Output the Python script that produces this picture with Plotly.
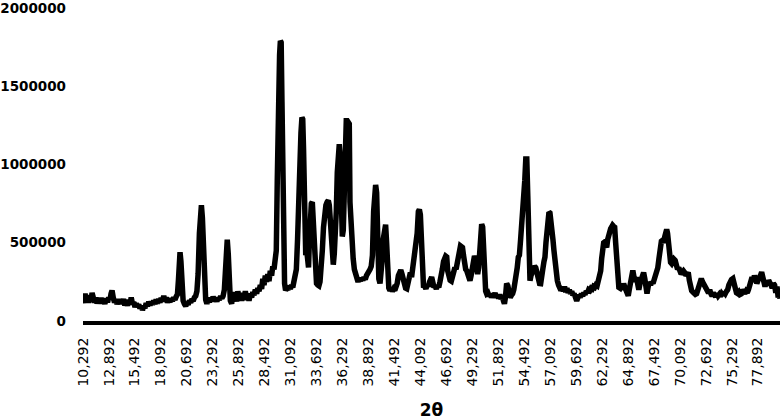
import plotly.graph_objects as go

two_theta = [
10.29,10.40,10.50,10.60,10.72,10.85,10.98,11.10,11.20,11.32,11.45,11.58,11.70,11.83,11.96,12.10,12.22,12.35,12.48,12.62,
12.75,12.88,13.00,13.10,13.20,13.32,13.45,13.58,13.70,13.84,13.96,14.10,14.22,14.35,14.48,14.62,14.75,14.88,15.00,15.12,
15.25,15.38,15.50,15.62,15.75,15.88,16.00,16.12,16.25,16.38,16.50,16.62,16.75,16.88,17.00,17.12,17.25,17.38,17.50,17.62,
17.75,17.88,18.00,18.12,18.25,18.38,18.50,18.62,18.75,18.88,19.00,19.12,19.25,19.38,19.50,19.62,19.75,19.85,19.93,20.01,
20.10,20.20,20.32,20.45,20.58,20.70,20.82,20.95,21.08,21.20,21.32,21.45,21.58,21.70,21.82,21.95,22.05,22.15,22.25,22.35,
22.45,22.58,22.70,22.82,22.95,23.08,23.20,23.32,23.45,23.58,23.70,23.82,23.95,24.08,24.20,24.32,24.45,24.55,24.65,24.74,
24.84,24.95,25.05,25.18,25.30,25.42,25.55,25.68,25.80,25.92,26.05,26.18,26.30,26.42,26.55,26.68,26.80,26.92,27.05,27.18,
27.30,27.42,27.55,27.68,27.80,27.92,28.05,28.18,28.30,28.42,28.55,28.68,28.80,28.92,29.05,29.18,29.30,29.42,29.55,29.65,
29.75,29.82,29.90,29.98,30.06,30.14,30.22,30.30,30.38,30.48,30.58,30.70,30.82,30.94,31.06,31.18,31.30,31.42,31.54,31.66,
31.78,31.88,31.96,32.04,32.12,32.22,32.30,32.38,32.46,32.53,32.60,32.70,32.80,32.88,32.96,33.06,33.16,33.26,33.36,33.46,
33.56,33.68,33.80,33.92,34.03,34.14,34.26,34.38,34.50,34.62,34.74,34.86,34.96,35.06,35.16,35.26,35.36,35.46,35.56,35.66,
35.76,35.86,35.96,36.06,36.16,36.26,36.36,36.46,36.56,36.66,36.76,36.86,36.96,37.03,37.13,37.23,37.35,37.47,37.60,37.72,
37.84,37.96,38.08,38.20,38.32,38.44,38.56,38.68,38.80,38.92,39.04,39.16,39.28,39.40,39.50,39.60,39.70,39.80,39.92,40.04,
40.14,40.24,40.36,40.48,40.60,40.70,40.80,40.92,41.04,41.16,41.28,41.40,41.52,41.64,41.76,41.88,42.00,42.12,42.24,42.36,
42.48,42.60,42.72,42.84,42.96,43.08,43.20,43.30,43.40,43.52,43.64,43.76,43.88,43.98,44.08,44.18,44.28,44.40,44.52,44.64,
44.76,44.88,45.00,45.10,45.21,45.32,45.44,45.56,45.68,45.80,45.92,46.04,46.16,46.28,46.40,46.52,46.62,46.72,46.82,46.94,
47.06,47.18,47.30,47.42,47.54,47.66,47.78,47.90,48.00,48.10,48.20,48.30,48.40,48.50,48.62,48.72,48.84,48.94,49.05,49.16,
49.28,49.40,49.50,49.60,49.72,49.82,49.92,50.02,50.12,50.22,50.32,50.42,50.52,50.62,50.72,50.84,50.96,51.08,51.20,51.32,
51.44,51.56,51.68,51.80,51.92,52.04,52.16,52.28,52.40,52.50,52.60,52.72,52.84,52.96,53.08,53.20,53.32,53.44,53.56,53.66,
53.78,53.89,54.00,54.12,54.23,54.34,54.44,54.54,54.64,54.74,54.84,54.94,55.06,55.16,55.28,55.40,55.52,55.64,55.76,55.90,
56.02,56.13,56.24,56.34,56.46,56.56,56.66,56.76,56.86,56.96,57.06,57.16,57.26,57.36,57.46,57.56,57.68,57.80,57.92,58.04,
58.16,58.28,58.40,58.52,58.64,58.76,58.88,59.00,59.12,59.24,59.36,59.48,59.62,59.74,59.86,59.98,60.10,60.22,60.34,60.46,
60.58,60.70,60.82,60.94,61.06,61.18,61.30,61.42,61.54,61.66,61.78,61.90,62.02,62.14,62.24,62.34,62.44,62.54,62.64,62.74,
62.84,62.94,63.04,63.14,63.24,63.34,63.44,63.54,63.64,63.74,63.86,63.96,64.08,64.20,64.32,64.44,64.56,64.68,64.80,64.90,
65.00,65.12,65.24,65.36,65.48,65.60,65.72,65.84,65.96,66.08,66.20,66.32,66.44,66.56,66.68,66.78,66.90,67.02,67.14,67.26,
67.38,67.50,67.62,67.74,67.86,67.98,68.10,68.22,68.34,68.46,68.56,68.66,68.75,68.84,68.94,69.04,69.14,69.25,69.36,69.48,
69.60,69.72,69.84,69.96,70.08,70.20,70.32,70.44,70.56,70.68,70.80,70.91,71.02,71.14,71.25,71.38,71.50,71.62,71.75,71.86,
71.98,72.10,72.22,72.34,72.46,72.58,72.70,72.82,72.94,73.06,73.18,73.30,73.42,73.54,73.66,73.78,73.90,74.02,74.14,74.26,
74.38,74.50,74.62,74.74,74.86,74.98,75.10,75.24,75.38,75.50,75.62,75.74,75.86,75.98,76.10,76.22,76.34,76.46,76.58,76.70,
76.82,76.94,77.06,77.18,77.30,77.42,77.54,77.66,77.78,77.90,78.02,78.14,78.26,78.38,78.50,78.60,78.72,78.84,78.96,79.08,
79.20,79.32,79.44,79.56,79.68,79.80,79.92,80.04,80.10,
]

# intensity in thousands of counts
intensity_k = [
160,115,175,125,165,118,150,130,180,140,118,150,112,140,120,148,112,135,110,145,
120,150,135,175,195,150,118,140,108,135,110,138,112,140,100,128,98,135,105,150,
110,120,88,112,92,105,80,98,70,95,82,115,95,122,100,125,105,130,108,138,
112,140,118,148,125,160,130,150,118,140,120,145,128,150,135,155,170,260,420,440,
380,210,130,108,95,118,105,130,118,140,128,150,160,190,300,560,680,740,660,420,
220,135,110,138,120,148,125,155,130,145,125,150,135,158,145,160,200,330,470,520,
430,240,130,110,185,140,175,125,190,150,180,130,170,135,190,145,170,130,175,150,
185,165,200,175,210,190,230,205,270,230,290,250,300,255,320,290,350,330,380,450,
900,1500,1520,1700,1790,1780,1400,800,420,240,195,210,200,225,205,230,215,245,280,330,
520,850,1030,1050,1200,1300,1290,1100,700,500,420,450,360,342,500,700,750,760,650,420,
290,240,230,225,250,320,450,600,700,740,760,770,740,620,500,400,360,430,520,700,
950,1100,1130,1050,700,540,580,900,1200,1280,1280,1275,1260,760,600,500,400,330,290,260,
250,270,255,275,260,280,265,290,300,320,330,350,420,700,860,870,820,450,270,240,
300,380,520,600,615,500,300,210,195,210,190,205,195,215,240,290,320,325,300,260,
220,210,206,240,290,310,280,330,350,380,440,560,700,712,680,450,250,213,225,205,
235,220,250,265,280,250,215,225,205,230,215,250,280,330,380,400,415,410,320,270,
260,255,290,320,342,330,380,420,470,480,475,470,420,360,330,322,300,270,258,290,
330,390,415,400,330,300,340,480,600,618,600,450,250,190,174,180,160,175,150,170,
155,180,150,165,145,170,140,160,130,110,150,240,225,170,150,165,175,200,240,290,
340,408,420,520,602,650,750,900,1035,1035,800,450,258,290,320,340,350,340,300,250,
240,239,270,330,380,408,500,600,670,695,690,650,600,520,450,380,300,258,230,210,
195,215,190,220,185,210,180,200,175,190,165,175,150,129,150,165,150,175,160,180,
170,190,180,200,195,210,205,220,215,230,225,250,280,320,400,480,500,505,480,470,
520,560,570,590,600,612,605,600,500,350,250,215,210,230,200,240,215,190,175,161,
200,260,300,322,280,250,280,230,200,240,270,300,310,270,200,175,220,250,230,250,
240,265,280,300,340,400,480,510,516,500,540,570,585,560,470,400,375,367,380,395,
387,360,330,340,322,300,310,320,310,290,300,310,260,200,194,185,175,170,175,200,
240,260,271,250,230,210,200,194,180,200,175,160,180,165,155,175,160,170,158,175,
165,185,175,190,200,230,250,265,271,240,200,180,175,185,170,174,200,185,175,190,
180,200,230,260,280,250,290,270,240,260,270,290,312,280,240,220,250,230,260,250,
230,210,240,230,180,220,150,190,142,
]

tick_labels = ["10,292", "12,892", "15,492", "18,092", "20,692", "23,292", "25,892",
               "28,492", "31,092", "33,692", "36,292", "38,892", "41,492", "44,092",
               "46,692", "49,292", "51,892", "54,492", "57,092", "59,692", "62,292",
               "64,892", "67,492", "70,092", "72,692", "75,292", "77,892"]
tick_positions = [float(t.replace(",", ".")) for t in tick_labels]

y_ticks = [0, 500000, 1000000, 1500000, 2000000]

intensity = [v * 1000 for v in intensity_k]

fig = go.Figure()
fig.add_trace(go.Scatter(
    x=two_theta, y=intensity, mode="lines",
    line=dict(color="black", width=5.5, shape="linear"),
    showlegend=False, hoverinfo="skip",
))

fig.update_layout(
    width=782, height=420,
    margin=dict(l=83, r=2, t=8, b=99),
    paper_bgcolor="white", plot_bgcolor="white",
    font=dict(family="DejaVu Sans", color="black"),
    xaxis=dict(
        range=[10.292, 80.1],
        automargin=False,
        tickmode="array", tickvals=tick_positions, ticktext=tick_labels,
        tickangle=-90, tickfont=dict(size=14, family="DejaVu Sans", color="black"),
        showline=True, linecolor="black", linewidth=4,
        showgrid=False, zeroline=False, ticks="",
        ticklabelstandoff=7,
        ticklabeloverflow="allow",
        title=dict(text="<b>2θ</b>", font=dict(size=17, family="DejaVu Sans"), standoff=22),
    ),
    yaxis=dict(
        range=[0, 2000000],
        automargin=False,
        tickmode="array", tickvals=y_ticks, ticktext=[str(v) for v in y_ticks],
        tickfont=dict(size=13.5, family="DejaVu Sans", color="black", weight="bold"),
        showline=False, showgrid=False, zeroline=False, ticks="",
        ticklabelstandoff=16,
        ticklabeloverflow="allow",
    ),
)

fig.write_html("out.html",
               config={"displayModeBar": False, "staticPlot": True},
               post_script="document.body.style.margin='0';document.body.style.overflow='hidden';")
